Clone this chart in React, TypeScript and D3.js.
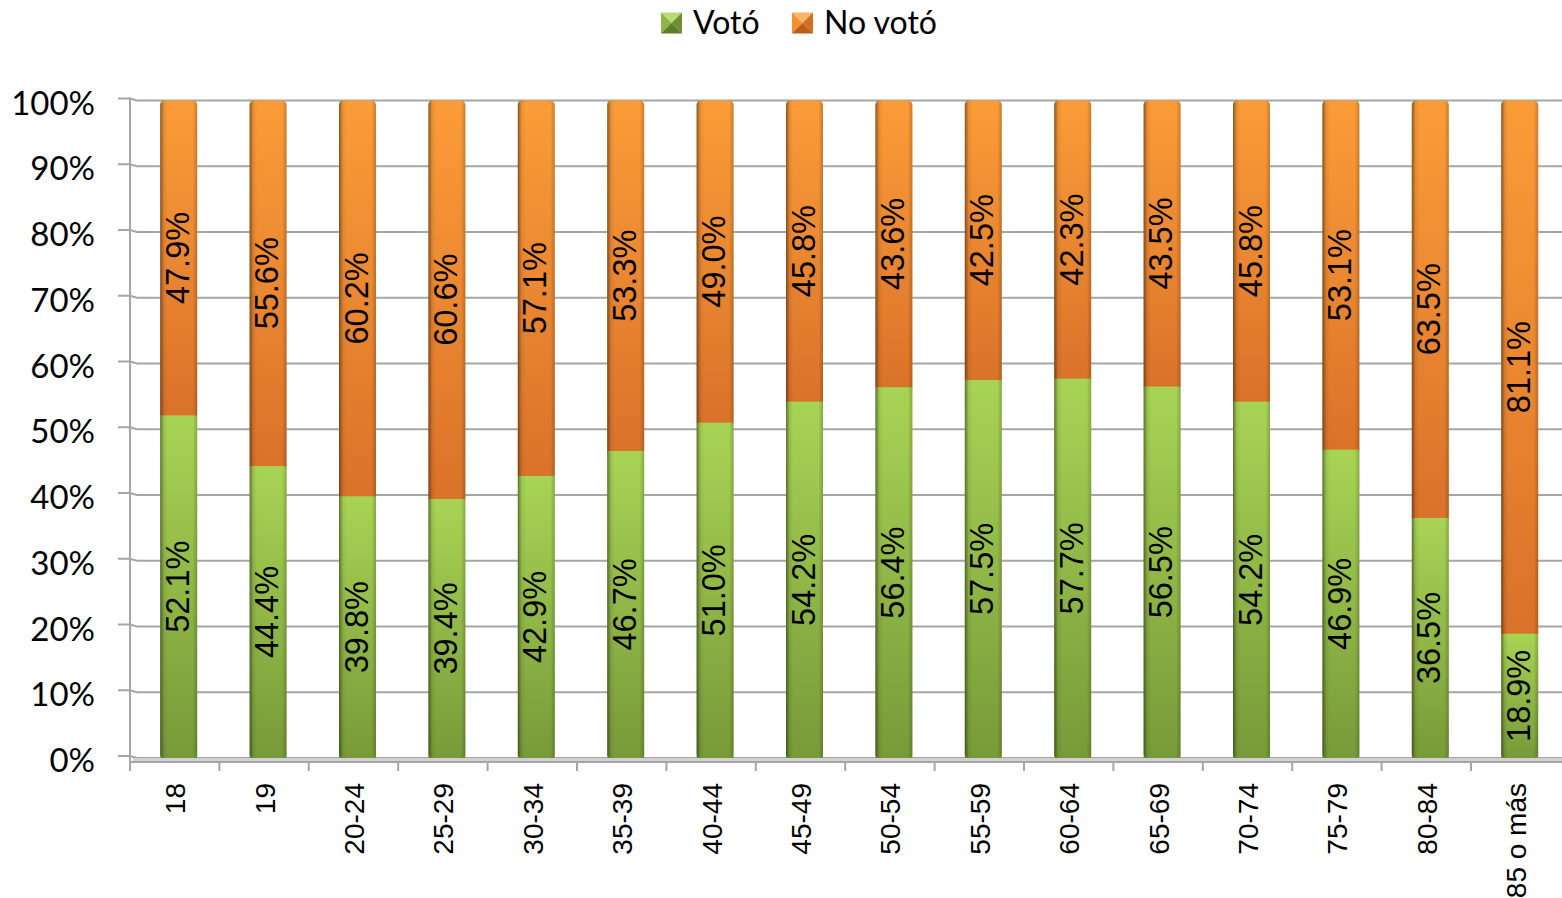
import React from "react";
import * as d3 from "d3";

const categories = ["18", "19", "20-24", "25-29", "30-34", "35-39", "40-44", "45-49", "50-54", "55-59", "60-64", "65-69", "70-74", "75-79", "80-84", "85 o más"];
const voto = [52.1, 44.4, 39.8, 39.4, 42.9, 46.7, 51.0, 54.2, 56.4, 57.5, 57.7, 56.5, 54.2, 46.9, 36.5, 18.9];
const noVoto = [47.9, 55.6, 60.2, 60.6, 57.1, 53.3, 49.0, 45.8, 43.6, 42.5, 42.3, 43.5, 45.8, 53.1, 63.5, 81.1];
const yTicks = [0, 10, 20, 30, 40, 50, 60, 70, 80, 90, 100];
const seriesNames = ["Votó", "No votó"];

export default function App() {
  const W = 1562, H = 898;
  const x = d3.scaleBand<string>().domain(categories).range([130, 1560.4]).padding(0);
  const y = d3.scaleLinear().domain([0, 100]).range([758, 100.5]);
  const barW = 37;
  const depth = 4;
  const stack = d3.stack<any>().keys(["voto", "noVoto"])(categories.map((c, i) => ({ cat: c, voto: voto[i], noVoto: noVoto[i] })));
  const fmt = (v: number) => v.toFixed(1) + "%";
  const labelFont = "'Liberation Sans', Arial, sans-serif";
  const calFont = "Lato, 'Open Sans', sans-serif";

  return (
    <svg width={W} height={H} style={{ position: "absolute", left: 0, top: 0, display: "block", background: "#fff" }}>
      <defs>
        <linearGradient id="gGreen" x1="0" y1="0" x2="0" y2="1">
          <stop offset="0" stopColor="#a8d455" />
          <stop offset="1" stopColor="#789a39" />
        </linearGradient>
        <linearGradient id="gOrange" x1="0" y1="0" x2="0" y2="1">
          <stop offset="0" stopColor="#fb9c38" />
          <stop offset="1" stopColor="#d9722a" />
        </linearGradient>
        <linearGradient id="gEdge" x1="0" y1="0" x2="1" y2="0">
          <stop offset="0" stopColor="#000" stopOpacity="0.45" />
          <stop offset="0.1" stopColor="#000" stopOpacity="0.08" />
          <stop offset="0.2" stopColor="#000" stopOpacity="0" />
          <stop offset="0.88" stopColor="#000" stopOpacity="0" />
          <stop offset="1" stopColor="#000" stopOpacity="0.2" />
        </linearGradient>
      </defs>

      {/* legend */}
      {seriesNames.map((name, i) => {
        const bx = i === 0 ? 661 : 792;
        const by = 12.5;
        const s = 21;
        const cols = i === 0 ? ["#b9dc72", "#8fb547", "#6f8f33", "#5e7a2a"] : ["#fdb468", "#f2902f", "#d26f22", "#b85e1c"];
        const cx = bx + s / 2, cy = by + s / 2;
        return (
          <g key={name}>
            <polygon points={`${bx},${by} ${bx + s},${by} ${cx},${cy}`} fill={cols[0]} />
            <polygon points={`${bx},${by} ${cx},${cy} ${bx},${by + s}`} fill={cols[1]} />
            <polygon points={`${bx + s},${by} ${cx},${cy} ${bx + s},${by + s}`} fill={cols[2]} />
            <polygon points={`${bx},${by + s} ${cx},${cy} ${bx + s},${by + s}`} fill={cols[3]} />
            <text x={bx + 32} y={34} fontFamily={calFont} fontSize={32} fill="#000">{name}</text>
          </g>
        );
      })}

      {/* gridlines */}
      {yTicks.map((t) => {
        const yy = y(t);
        return (
          <g key={t}>
            <path d={`M118,${yy - 2} L130,${yy - 2} L137,${yy} L1562,${yy}`} fill="none" stroke="#a6a6a6" strokeWidth={2} />
            <text x={95} y={yy + 1} textAnchor="end" dominantBaseline="central" fontFamily={calFont} fontSize={33} fill="#000">{t + "%"}</text>
          </g>
        );
      })}
      {/* floor */}
      <rect x={133} y={y(0)} width={1562 - 133} height={4} fill="#d0d0d0" />
      <line x1={130} y1={y(0) + 4} x2={1562} y2={y(0) + 4} stroke="#a6a6a6" strokeWidth={2} />
      <line x1={130} y1={y(100) - 3} x2={130} y2={771} stroke="#a6a6a6" strokeWidth={2} />
      {categories.map((c) => (
        <line key={"t" + c} x1={x(c)!} y1={762} x2={x(c)!} y2={771} stroke="#a6a6a6" strokeWidth={2} />
      ))}

      {/* bars */}
      {categories.map((c, i) => {
        const cx = x(c)! + x.bandwidth() / 2 + depth;
        const left = cx - barW / 2;
        const g0 = stack[0][i], o0 = stack[1][i];
        const gTop = y(g0[1]), gBot = y(g0[0]);
        const oTop = y(o0[1]), oBot = y(o0[0]);
        return (
          <g key={c}>
            <rect x={left} y={oTop} width={barW} height={oBot - oTop + 5} rx={5} fill="url(#gOrange)" />
            <rect x={left} y={gTop} width={barW} height={gBot - gTop} fill="url(#gGreen)" />
            <rect x={left} y={oTop} width={barW} height={gBot - oTop} rx={4} fill="url(#gEdge)" />
            <text transform={`translate(${cx - 1},${(gTop + gBot) / 2}) rotate(-90)`} textAnchor="middle" dominantBaseline="central" fontFamily={labelFont} fontSize={32.5} fill="#000">{fmt(voto[i])}</text>
            <text transform={`translate(${cx - 1},${(oTop + oBot) / 2}) rotate(-90)`} textAnchor="middle" dominantBaseline="central" fontFamily={labelFont} fontSize={32.5} fill="#000">{fmt(noVoto[i])}</text>
            <text transform={`translate(${cx - 3},783) rotate(-90)`} textAnchor="end" dominantBaseline="central" fontFamily={labelFont} fontSize={28} fill="#000">{c}</text>
          </g>
        );
      })}
    </svg>
  );
}
